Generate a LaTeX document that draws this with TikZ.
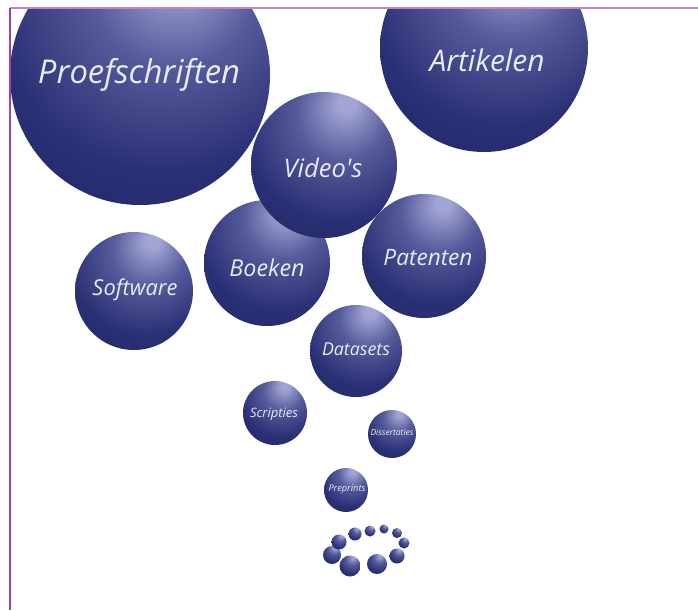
\documentclass[tikz,border=0pt]{standalone}
\usepackage{fontspec}
\setmainfont{Open Sans}
\usepackage{graphicx}
\definecolor{hl}{RGB}{162,164,212}
\definecolor{mid}{RGB}{84,90,154}
\definecolor{base}{RGB}{42,48,116}
\definecolor{dark}{RGB}{27,33,98}
\definecolor{framecol}{RGB}{160,64,176}
\definecolor{framecoltop}{RGB}{196,128,200}
\definecolor{txt}{RGB}{234,234,244}
\pgfdeclareradialshading{sph}{\pgfpoint{8bp}{22bp}}{color(0bp)=(hl); color(3bp)=(hl); color(16bp)=(mid); color(32bp)=(base); color(52bp)=(dark); color(80bp)=(dark)}
\tikzset{
  sphere/.style={circle, inner sep=0pt, shading=sph},
  lbl/.style={inner sep=0pt, text=txt, font=\itshape}
}
\newcommand\myball[4]{\node[sphere, minimum size=#4pt] (#1) at (#2,#3) {};}
\newcommand\mylbl[5]{\node[lbl] (#1) at (#2,#3) {\resizebox{#4pt}{!}{#5}};}
\begin{document}
\begin{tikzpicture}[x=1pt,y=-1pt]
\useasboundingbox (0,0) rectangle (698,610);
\begin{scope}
\clip (10,8) rectangle (698,610);
\myball{proef}{140}{75}{260}
\myball{artik}{484}{48}{208}
\myball{boeken}{267}{263}{126}
\myball{video}{324}{165}{146}
\myball{software}{134}{291}{118}
\myball{patenten}{424}{256}{124}
\myball{datasets}{356}{351}{92}
\myball{scripties}{275}{413}{64}
\myball{dissert}{392}{434}{48}
\myball{preprints}{346}{490}{44}
\myball{r1}{332}{555}{18}
\myball{r2}{350}{566}{21}
\myball{r3}{377}{564}{20}
\myball{r4}{397}{556}{15}
\myball{r5}{404}{543}{11}
\myball{r6}{397}{533}{10}
\myball{r7}{384}{529}{9}
\myball{r8}{370}{531}{11}
\myball{r9}{355}{534}{13}
\myball{r10}{339}{542}{15}
\end{scope}
\mylbl{tproef}{139}{75}{202}{Proefschriften}
\mylbl{tartik}{487}{60}{115}{Artikelen}
\mylbl{tvideo}{323}{168}{79}{Video\textquotesingle s}
\mylbl{tboeken}{267}{268}{75}{Boeken}
\mylbl{tsoftware}{135}{290}{85}{Software}
\mylbl{tpatenten}{428}{258}{89}{Patenten}
\mylbl{tdatasets}{356}{349}{68}{Datasets}
\mylbl{tscripties}{274}{414}{48}{Scripties}
\mylbl{tdissert}{392}{432}{43}{Dissertaties}
\mylbl{tpreprints}{347}{489}{37}{Preprints}
\draw[framecoltop, line width=1.2pt] (10,8) -- (698,8);
\draw[framecol, line width=1.2pt] (10,8) -- (10,610);
\end{tikzpicture}
\end{document}
